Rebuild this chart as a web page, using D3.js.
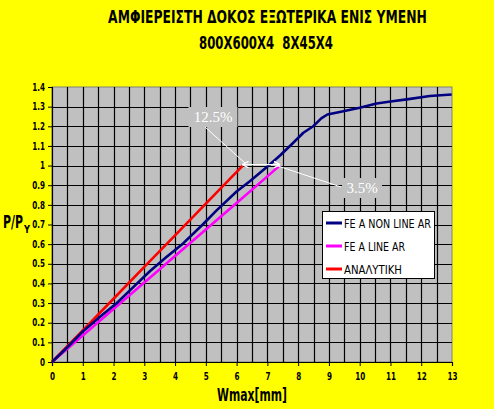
<!DOCTYPE html>
<html><head><meta charset="utf-8">
<script src="https://cdn.jsdelivr.net/npm/d3@7"></script>
<style>
html,body{margin:0;padding:0;background:#ffff00;}
svg{display:block;}
text{font-family:"DejaVu Sans Condensed","Liberation Sans",Arial,sans-serif;}
</style></head>
<body>
<script>
// ---- data ----
const titleLines = ["ΑΜΦΙΕΡΕΙΣΤΗ ΔΟΚΟΣ ΕΞΩΤΕΡΙΚΑ ΕΝΙΣ ΥΜΕΝΗ", "800X600X4  8X45X4"];
const xTicks = [0,1,2,3,4,5,6,7,8,9,10,11,12,13];
const yTicks = [0,0.1,0.2,0.3,0.4,0.5,0.6,0.7,0.8,0.9,1,1.1,1.2,1.3,1.4];
const seriesNames = ["FE A NON LINE AR", "FE A LINE AR", "ΑΝΑΛΥΤΙΚΗ"];
const feaNonLinear = [[0,0],[0.5,0.075],[1.02,0.158],[1.6,0.235],[2.1,0.299],[2.6,0.375],[3.18,0.462],[3.7,0.532],[4.27,0.605],[4.9,0.7],[5.35,0.772],[6.0,0.868],[6.43,0.92],[7.08,1.005],[7.41,1.051],[7.8,1.11],[8.17,1.167],[8.49,1.2],[8.75,1.24],[8.95,1.26],[9.47,1.277],[10.0,1.294],[10.55,1.316],[11.0,1.326],[11.53,1.337],[12.28,1.354],[12.99,1.362]];
const feaLinear = [[0,0],[1,0.135],[2,0.27],[3,0.405],[4,0.54],[5,0.675],[6,0.81],[7,0.945],[7.4,1.0]];
const analytical = [[0,0],[1,0.161],[2,0.322],[3,0.484],[4,0.645],[5,0.806],[6.2,1.0]];
const annotations = [{text:"12.5%", x:213, y:117}, {text:"3.5%", x:362, y:188}];

// ---- layout ----
const W=494,H=409;
const svg=d3.select("body").append("svg").attr("width",W).attr("height",H);
svg.append("rect").attr("width",W).attr("height",H).attr("fill","#ffff00");
const x=d3.scaleLinear().domain([0,13]).range([52,452]);
const y=d3.scaleLinear().domain([0,1.4]).range([362,87]);

// fit a text element horizontally into a width via a scale transform
function fitText(sel, cx, cy, width, anchor){
  const l=sel.node().getComputedTextLength();
  const s=width/l;
  sel.attr("x",0).attr("y",0).attr("text-anchor",anchor)
     .attr("transform",`translate(${cx},${cy}) scale(${s},1)`);
}

// plot area
svg.append("rect").attr("x",x(0)).attr("y",y(1.4)).attr("width",x(13)-x(0)).attr("height",y(0)-y(1.4))
  .attr("fill","#c0c0c0").attr("stroke","#808080").attr("stroke-width",1);

// grid
const gx=d3.range(0.5,13,0.5);
svg.append("g").selectAll("line").data(gx).join("line")
  .attr("x1",d=>Math.round(x(d))+0.5).attr("x2",d=>Math.round(x(d))+0.5)
  .attr("y1",y(0)).attr("y2",y(1.4)).attr("stroke","#000").attr("stroke-width",1.2);
svg.append("g").selectAll("line").data(yTicks.slice(1,-1)).join("line")
  .attr("y1",d=>Math.round(y(d))+0.5).attr("y2",d=>Math.round(y(d))+0.5)
  .attr("x1",x(0)).attr("x2",x(13)).attr("stroke","#000").attr("stroke-width",1.2);

// axes
const xAxis=d3.axisBottom(x).tickValues(xTicks).tickFormat(d3.format("d")).tickSize(4).tickPadding(7);
const yAxis=d3.axisLeft(y).tickValues(yTicks).tickFormat(d=>String(+d.toFixed(1))).tickSize(4).tickPadding(3);
const gX=svg.append("g").attr("transform",`translate(0,${y(0)})`).call(xAxis);
const gY=svg.append("g").attr("transform",`translate(${x(0)},0)`).call(yAxis);
[gX,gY].forEach(g=>{
  g.select(".domain").attr("stroke","#000").attr("stroke-width",1.2);
  g.selectAll(".tick line").attr("stroke","#000");
  g.selectAll("text").attr("font-size",10).attr("font-weight","bold").attr("fill","#000")
   .style("font-family",'"DejaVu Sans Condensed","Liberation Sans",Arial,sans-serif')
   .each(function(){const l=this.getComputedTextLength();
      d3.select(this).attr("textLength",l*0.8).attr("lengthAdjust","spacingAndGlyphs");});
});

// series
const line=d3.line().x(d=>x(d[0])).y(d=>y(d[1]));
const seriesData=[feaNonLinear,feaLinear,analytical];
const colors=["#000080","#ff00ff","#ff0000"];
[1,2,0].forEach(i=>{
  svg.append("path").datum(seriesData[i]).attr("d",line).attr("fill","none")
    .attr("stroke",colors[i]).attr("stroke-width",2.6).attr("stroke-linejoin","round");
});

// annotations
const defs=svg.append("defs");
defs.append("marker").attr("id","ah").attr("viewBox","0 0 10 10").attr("refX",9).attr("refY",5)
  .attr("markerWidth",5).attr("markerHeight",5).attr("orient","auto-start-reverse")
  .append("path").attr("d","M0,0 L10,5 L0,10").attr("fill","none").attr("stroke","#fff").attr("stroke-width",2);
svg.append("line").attr("x1",205).attr("y1",127).attr("x2",245).attr("y2",163).attr("stroke","#fff").attr("stroke-width",1);
svg.append("line").attr("x1",278).attr("y1",166).attr("x2",341).attr("y2",187).attr("stroke","#fff").attr("stroke-width",1);
svg.append("line").attr("x1",x(6.2)).attr("y1",y(1.0)-1).attr("x2",x(7.4)).attr("y2",y(1.0)-1)
  .attr("stroke","#fff").attr("stroke-width",1.3).attr("marker-start","url(#ah)").attr("marker-end","url(#ah)");
annotations.forEach(a=>{
  const w=a.text.length*9+4;
  svg.append("rect").attr("x",a.x-w/2).attr("y",a.y-10).attr("width",w).attr("height",20).attr("fill","#c0c0c0");
  svg.append("text").attr("x",a.x).attr("y",a.y+5).attr("text-anchor","middle").attr("fill","#fff")
    .attr("font-size",15).style("font-family",'"Liberation Serif","Times New Roman",serif').text(a.text);
});

// legend
const lg=svg.append("g");
lg.append("rect").attr("x",322.5).attr("y",211.5).attr("width",112).attr("height",67).attr("fill","#fff").attr("stroke","#000").attr("stroke-width",1);
const lw=[87,61,58];
seriesNames.forEach((n,i)=>{
  const yy=223+i*23;
  lg.append("line").attr("x1",326).attr("x2",342).attr("y1",yy).attr("y2",yy).attr("stroke",colors[i]).attr("stroke-width",3);
  lg.append("text").attr("x",344).attr("y",yy+4.5).attr("font-size",12).attr("textLength",lw[i]).attr("lengthAdjust","spacingAndGlyphs").text(n);
});

// titles
const t1=svg.append("text").attr("font-size",18).attr("font-weight","bold").text(titleLines[0]);
fitText(t1,267.5,23,319,"middle");
const t2=svg.append("text").attr("font-size",18).attr("font-weight","bold")
  .style("white-space","pre").attr("xml:space","preserve").text(titleLines[1]);
fitText(t2,266,49,134,"middle");

// axis titles
const xt=svg.append("text").attr("font-size",17).attr("font-weight","bold").text("Wmax[mm]");
fitText(xt,252,401,70,"middle");
const yl1=svg.append("text").attr("font-size",18).attr("font-weight","bold").text("P/P");
fitText(yl1,3,228,20,"start");
const yl2=svg.append("text").attr("font-size",11).attr("font-weight","bold").text("Y");
fitText(yl2,24,233,6,"start");
</script>
</body></html>
